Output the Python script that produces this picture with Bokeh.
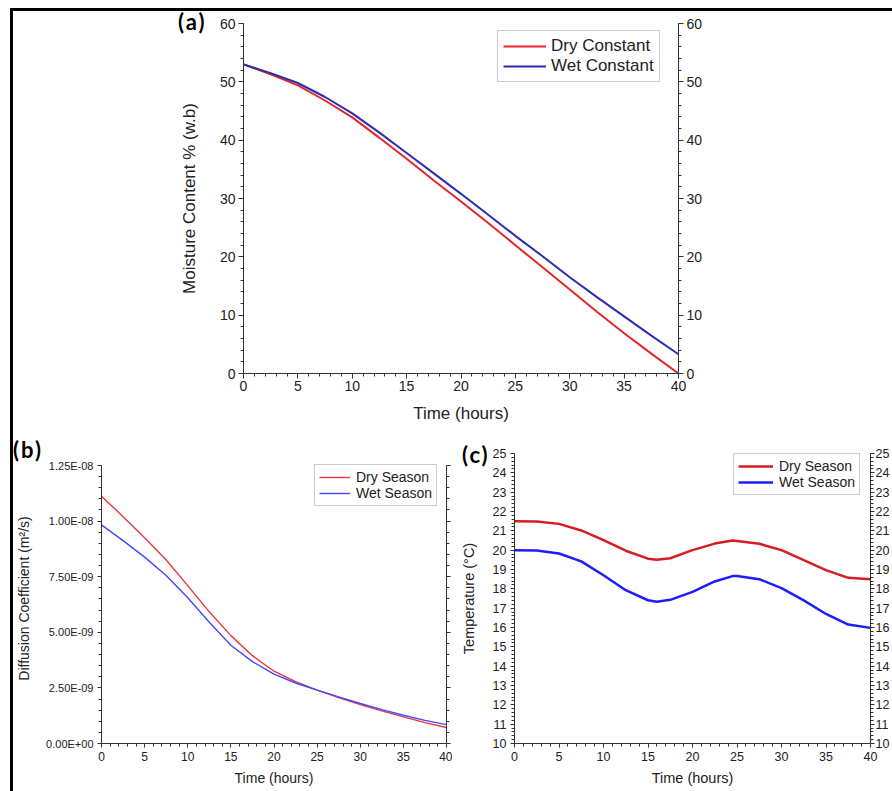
from bokeh.plotting import figure
from bokeh.models import (Range1d, LinearAxis, SingleIntervalTicker, Spacer, Div,
                          CustomJSTickFormatter)
from bokeh.layouts import row, column
from bokeh.embed import file_html
from bokeh.resources import INLINE

# ---------------- data ----------------
# (a) moisture content % (w.b) vs time (hours)
time_a = [0, 2.5, 5, 7.5, 10, 12.5, 15, 17.5, 20, 22.5, 25, 27.5, 30, 32.5, 35, 37.5, 40]
dry_constant = [53.0, 51.3, 49.4, 46.8, 43.9, 40.4, 36.8, 33.1, 29.5, 25.8, 22.0, 18.2,
                14.4, 10.6, 6.9, 3.4, 0.0]
wet_constant = [53.0, 51.5, 49.8, 47.4, 44.6, 41.3, 37.8, 34.3, 30.8, 27.2, 23.6, 20.1,
                16.5, 13.1, 9.8, 6.5, 3.3]

# (b) diffusion coefficient (m2/s) vs time (hours)
time_b = [0, 2.5, 5, 7.5, 10, 12.5, 15, 17.5, 20, 22.5, 25, 27.5, 30, 32.5, 35, 37.5, 40]
dry_diff = [1.112e-8, 1.020e-8, 9.25e-9, 8.25e-9, 7.10e-9, 5.92e-9, 4.85e-9, 3.95e-9,
            3.25e-9, 2.78e-9, 2.40e-9, 2.07e-9, 1.75e-9, 1.47e-9, 1.20e-9, 9.4e-10, 7.2e-10]
wet_diff = [9.83e-9, 9.12e-9, 8.38e-9, 7.55e-9, 6.55e-9, 5.45e-9, 4.42e-9, 3.68e-9,
            3.12e-9, 2.72e-9, 2.40e-9, 2.10e-9, 1.80e-9, 1.52e-9, 1.27e-9, 1.04e-9, 8.5e-10]

# (c) temperature (deg C) vs time (hours)
time_c = [0, 2.5, 5, 7.5, 10, 12.5, 15, 16, 17.5, 20, 22.5, 24.5, 25, 27.5, 30, 32.5, 35, 37.5, 40]
dry_temp = [21.5, 21.48, 21.36, 21.02, 20.52, 19.97, 19.56, 19.5, 19.58, 20.0, 20.34, 20.5,
            20.48, 20.33, 20.0, 19.48, 18.97, 18.57, 18.5]
wet_temp = [20.0, 19.98, 19.83, 19.42, 18.7, 17.93, 17.41, 17.33, 17.43, 17.84, 18.38, 18.66,
            18.66, 18.5, 18.04, 17.4, 16.7, 16.15, 15.98]

labels_a = ["Dry Constant", "Wet Constant"]
labels_bc = ["Dry Season", "Wet Season"]
panel_tags = ["(a)", "(b)", "(c)"]

FONT = "Liberation Sans"
PANEL_FONT = "Lato"
TXT = "#222222"
AX = "#333333"


def make_fig(width, height, lb, rb, tb, bb, yr):
    p = figure(width=width, height=height, x_range=Range1d(0, 40), y_range=Range1d(*yr),
               output_backend="svg", toolbar_location=None,
               min_border_left=lb, min_border_right=rb, min_border_top=tb, min_border_bottom=bb)
    p.grid.visible = False
    p.outline_line_color = None
    p.background_fill_color = "white"
    p.border_fill_color = "white"
    return p


def style_axis(ax, tick_fs, title_fs, label_standoff, title_standoff, tick_out=5, minor_out=3):
    ax.axis_line_color = AX
    ax.axis_line_width = 1
    ax.major_tick_line_color = AX
    ax.minor_tick_line_color = AX
    ax.major_tick_out = tick_out
    ax.major_tick_in = 0
    ax.minor_tick_out = minor_out
    ax.minor_tick_in = 0
    ax.major_label_text_font = FONT
    ax.major_label_text_font_size = tick_fs
    ax.major_label_text_color = TXT
    ax.major_label_standoff = label_standoff
    ax.axis_label_text_font = FONT
    ax.axis_label_text_font_size = title_fs
    ax.axis_label_text_font_style = "normal"
    ax.axis_label_text_color = TXT
    ax.axis_label_standoff = title_standoff


def style_legend(p, loc, fs, gw, gh, standoff, padding):
    lg = p.legend[0]
    lg.location = loc
    lg.label_text_font = FONT
    lg.label_text_font_size = fs
    lg.label_text_color = TXT
    lg.glyph_width = gw
    lg.glyph_height = gh
    lg.label_height = gh
    lg.label_standoff = standoff
    lg.padding = padding
    lg.spacing = 0
    lg.margin = 0
    lg.border_line_color = "#9a9a9a"
    lg.border_line_width = 1
    lg.background_fill_color = "white"
    lg.background_fill_alpha = 1


def panel_tag(text, left, top):
    return Div(text=text, margin=(0, 0, 0, 0),
               styles={"position": "absolute", "left": f"{left}px", "top": f"{top}px",
                       "font-family": PANEL_FONT, "font-weight": "bold", "font-size": "22px",
                       "letter-spacing": "2px", "line-height": "26px", "color": "black",
                       "white-space": "nowrap", "z-index": "10"})


# ---------------- panel (a) ----------------
pa = make_fig(700, 421, 230, 35, 12, 59, (0, 60))
pa.line(time_a, dry_constant, color="#e3262c", line_width=2, legend_label=labels_a[0])
pa.line(time_a, wet_constant, color="#2c2cae", line_width=2, legend_label=labels_a[1])
pa.xaxis[0].ticker = SingleIntervalTicker(interval=5, num_minor_ticks=5)
pa.yaxis[0].ticker = SingleIntervalTicker(interval=10, num_minor_ticks=5)
pa.xaxis[0].axis_label = "Time (hours)"
pa.yaxis[0].axis_label = "Moisture Content % (w.b)"
style_axis(pa.xaxis[0], "14px", "17px", 2, 10)
style_axis(pa.yaxis[0], "14px", "17px", 3, 18)
ra = LinearAxis(ticker=SingleIntervalTicker(interval=10, num_minor_ticks=5))
style_axis(ra, "14px", "17px", 3, 5)
pa.add_layout(ra, "right")
style_legend(pa, (254, 291), "17px", 43, 20, 5, 5)

# ---------------- panel (b) ----------------
# frames of the bottom row share their top edge; the (b) axis stops at 1.25E-08
b_top = 1.25e-8
b_view_top = b_top * 290 / 278
pb = make_fig(439, 359, 88, 6, 21, 48, (0, b_view_top))
pb.line(time_b, dry_diff, color="#e8383d", line_width=1.4, legend_label=labels_bc[0])
pb.line(time_b, wet_diff, color="#4646ff", line_width=1.4, legend_label=labels_bc[1])
pb.xaxis[0].ticker = SingleIntervalTicker(interval=5, num_minor_ticks=5)
pb.yaxis[0].ticker = SingleIntervalTicker(interval=2.5e-9, num_minor_ticks=5)
pb.yaxis[0].bounds = (0, b_top)
pb.yaxis[0].formatter = CustomJSTickFormatter(code="""
const s = tick.toExponential(2);
const parts = s.split('e');
const e = parts[1];
const sign = e[0];
let d = e.slice(1);
if (d.length < 2) { d = '0' + d; }
return parts[0] + 'E' + sign + d;
""")
pb.xaxis[0].axis_label = "Time (hours)"
pb.yaxis[0].axis_label = "Diffusion Coefficient (m²/s)"
style_axis(pb.xaxis[0], "12px", "14px", 4, 6, tick_out=4)
style_axis(pb.yaxis[0], "11px", "14px", 4, 11, tick_out=4)
rb = LinearAxis(ticker=SingleIntervalTicker(interval=2.5e-9, num_minor_ticks=5),
                formatter=CustomJSTickFormatter(code="return '';"), bounds=(0, b_top))
style_axis(rb, "1px", "10px", 0, 0, tick_out=4)
pb.add_layout(rb, "right")
style_legend(pb, (213, 237), "14px", 31, 16, 6, 4)

# ---------------- panel (c) ----------------
pc = make_fig(440, 359, 62, 19, 21, 48, (10, 25))
pc.line(time_c, dry_temp, color="#d81c24", line_width=2.5, legend_label=labels_bc[0])
pc.line(time_c, wet_temp, color="#1c1cff", line_width=2.5, legend_label=labels_bc[1])
pc.xaxis[0].ticker = SingleIntervalTicker(interval=5, num_minor_ticks=5)
pc.yaxis[0].ticker = SingleIntervalTicker(interval=1, num_minor_ticks=5)
pc.xaxis[0].axis_label = "Time (hours)"
pc.yaxis[0].axis_label = "Temperature (°C)"
style_axis(pc.xaxis[0], "12.5px", "14.5px", 4, 6, tick_out=4)
style_axis(pc.yaxis[0], "12.5px", "14.5px", 4, 13, tick_out=4)
rc = LinearAxis(ticker=SingleIntervalTicker(interval=1, num_minor_ticks=5))
style_axis(rc, "12.5px", "10px", 1, 0, tick_out=4)
pc.add_layout(rc, "right")
style_legend(pc, (219, 248), "14px", 35, 16, 6, 4)

# ---------------- layout with frame lines ----------------
bar_h = Spacer(width=882, height=3, styles={"background-color": "black"})
bar_v = Spacer(width=3, height=780, styles={"background-color": "black"})
content = column(pa, row(pb, pc))
root = row(Spacer(width=10, height=791),
           column(Spacer(width=882, height=8), bar_h, row(bar_v, content)),
           panel_tag(panel_tags[0], 178, 9),
           panel_tag(panel_tags[1], 13, 437),
           panel_tag(panel_tags[2], 462, 442))

open("out.html", "w").write(file_html(root, INLINE))
